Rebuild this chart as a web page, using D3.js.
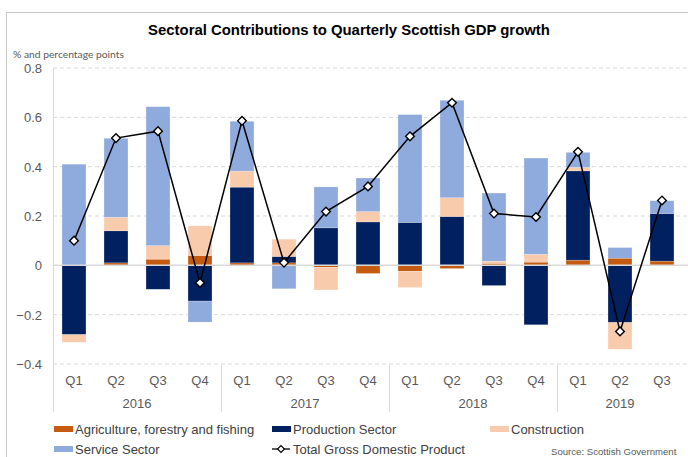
<!DOCTYPE html>
<html><head><meta charset="utf-8">
<script src="https://cdn.jsdelivr.net/npm/d3@7"></script>
<style>body{margin:0;background:#fff}svg{display:block}</style>
</head><body><svg id="c" width="688" height="457"></svg>
<script>
const quarters = ["Q1","Q2","Q3","Q4","Q1","Q2","Q3","Q4","Q1","Q2","Q3","Q4","Q1","Q2","Q3"];
const years = ["2016","2017","2018","2019"];
const agri = [0, 0.01, 0.025, 0.04, 0.01, 0.01, -0.008, -0.033, -0.024, -0.013, 0.008, 0.013, 0.021, 0.029, 0.017];
const prod = [-0.281, 0.13, -0.097, -0.145, 0.307, 0.026, 0.152, 0.176, 0.174, 0.198, -0.082, -0.241, 0.362, -0.232, 0.193];
const cons = [-0.031, 0.055, 0.055, 0.12, 0.065, 0.07, -0.092, 0.042, -0.066, 0.076, 0.009, 0.032, 0.014, -0.108, 0.0];
const serv = [0.41, 0.32, 0.563, -0.085, 0.202, -0.095, 0.166, 0.136, 0.437, 0.395, 0.276, 0.39, 0.061, 0.043, 0.052];
const total = [0.10, 0.516, 0.544, -0.071, 0.586, 0.011, 0.218, 0.32, 0.523, 0.659, 0.21, 0.196, 0.46, -0.268, 0.263];
const yTicks = [0.8, 0.6, 0.4, 0.2, 0, -0.2, -0.4];
const seriesNames = ["Agriculture, forestry and fishing","Production Sector","Construction","Service Sector"];
const colors = ["#C55A11","#002060","#F8CBAD","#8FAADC"];

const svg = d3.select("#c");
const font = "'Liberation Sans', Arial, sans-serif";
const pLeft = 53, pRight = 683, pTop = 68, pBottom = 364;

svg.append("rect").attr("x",6.5).attr("y",12.5).attr("width",700).attr("height",500)
  .attr("fill","none").attr("stroke","#c8c8c8");

svg.append("text").attr("x",349).attr("y",35).attr("text-anchor","middle")
  .attr("font-family",font).attr("font-weight","bold").attr("font-size",14.9).attr("fill","#000")
  .text("Sectoral Contributions to Quarterly Scottish GDP growth");
svg.append("text").attr("x",13).attr("y",58).attr("font-family","Lato, 'Open Sans', sans-serif")
  .attr("font-size",10.3).attr("fill","#595959").text("% and percentage points");

const idx = d3.range(quarters.length);
const x = d3.scaleBand().domain(idx).range([pLeft, pRight]).paddingInner(0.43).paddingOuter(0.215);
const y = d3.scaleLinear().domain([-0.4, 0.8]).range([pBottom, pTop]);

// gridlines
svg.append("g").selectAll("line").data(yTicks.filter(d => d !== 0)).join("line")
  .attr("x1",pLeft).attr("x2",688).attr("y1",d=>y(d)).attr("y2",d=>y(d))
  .attr("stroke","#d9d9d9").attr("stroke-dasharray","4,3").attr("stroke-width",1);

// y axis
const yAxis = d3.axisLeft(y).tickValues(yTicks).tickSize(0).tickPadding(0)
  .tickFormat(d => d === 0 ? "0" : d3.format(".1f")(d));
const ya = svg.append("g").attr("transform",`translate(${pLeft-11},0)`).call(yAxis);
ya.select(".domain").remove();
ya.selectAll("text").attr("font-family",font).attr("font-size",13).attr("fill","#595959").attr("dy","0.35em");

// stacked bars
const rows = idx.map(i => ({i, a: agri[i], p: prod[i], c: cons[i], s: serv[i]}));
const stack = d3.stack().keys(["a","p","c","s"]).offset(d3.stackOffsetDiverging);
const stacked = stack(rows);
svg.append("g").selectAll("g").data(stacked).join("g").attr("fill",(d,k)=>colors[k])
  .selectAll("rect").data(d=>d).join("rect")
  .attr("x",d=>x(d.data.i)).attr("width",x.bandwidth())
  .attr("y",d=>y(Math.max(d[0],d[1]))).attr("height",d=>Math.abs(y(d[0])-y(d[1])))
  .attr("stroke","#ffffff").attr("stroke-opacity",0.35).attr("stroke-width",0.6);

// zero line and left axis line
svg.append("line").attr("x1",pLeft).attr("x2",688).attr("y1",y(0)).attr("y2",y(0))
  .attr("stroke","#d9d9d9").attr("stroke-width",1.5);
svg.append("line").attr("x1",pLeft+0.5).attr("x2",pLeft+0.5).attr("y1",pTop).attr("y2",412)
  .attr("stroke","#d9d9d9").attr("stroke-width",1);

// x axis quarter labels via axis
const xAxis = d3.axisBottom(x).tickSize(0).tickPadding(0).tickFormat(i => quarters[i]);
const xa = svg.append("g").attr("transform",`translate(0,${pBottom})`).call(xAxis);
xa.select(".domain").remove();
xa.selectAll("text").attr("font-family",font).attr("font-size",13).attr("fill","#595959").attr("dy","21");

// year groups
const step = x.step();
years.forEach((yr, k) => {
  const i0 = k*4, i1 = Math.min(k*4+3, quarters.length-1);
  const cx = (x(i0) + x(i1) + x.bandwidth())/2;
  svg.append("text").attr("x",cx).attr("y",408).attr("text-anchor","middle")
    .attr("font-family",font).attr("font-size",13).attr("fill","#595959").text(yr);
  if (k > 0) {
    const sx = Math.round(x(i0) - (step - x.bandwidth())/2) + 0.5;
    svg.append("line").attr("x1",sx).attr("x2",sx).attr("y1",365).attr("y2",412)
      .attr("stroke","#d9d9d9").attr("stroke-width",1);
  }
});

// total line
const cxf = i => x(i) + x.bandwidth()/2;
svg.append("path").datum(idx).attr("fill","none").attr("stroke","#000").attr("stroke-width",1.5)
  .attr("d", d3.line().x(i=>cxf(i)).y(i=>y(total[i])));
const diamond = d3.symbol().type(d3.symbolDiamond2).size(48);
svg.append("g").selectAll("path").data(idx).join("path")
  .attr("transform", i=>`translate(${cxf(i)},${y(total[i])})`)
  .attr("d", diamond).attr("fill","#fff").attr("stroke","#000").attr("stroke-width",1.4);

// legend
const legItems = [
  {t: seriesNames[0], c: colors[0], x: 54, y: 429},
  {t: seriesNames[1], c: colors[1], x: 272, y: 429},
  {t: seriesNames[2], c: colors[2], x: 490, y: 429},
  {t: seriesNames[3], c: colors[3], x: 54, y: 449},
];
legItems.forEach(d => {
  svg.append("rect").attr("x",d.x).attr("y",d.y-3).attr("width",19).attr("height",6).attr("fill",d.c);
  svg.append("text").attr("x",d.x+21).attr("y",d.y).attr("dy","0.35em")
    .attr("font-family",font).attr("font-size",13).attr("fill","#404040").text(d.t);
});
svg.append("line").attr("x1",272).attr("x2",290).attr("y1",449).attr("y2",449).attr("stroke","#000").attr("stroke-width",1.3);
svg.append("path").attr("transform","translate(281,449)").attr("d",d3.symbol().type(d3.symbolDiamond2).size(30))
  .attr("fill","#fff").attr("stroke","#000").attr("stroke-width",1.2);
svg.append("text").attr("x",293).attr("y",449).attr("dy","0.35em")
  .attr("font-family",font).attr("font-size",13).attr("fill","#404040").text("Total Gross Domestic Product");
svg.append("text").attr("x",551).attr("y",455).attr("font-family",font).attr("font-size",9.6)
  .attr("fill","#595959").text("Source: Scottish Government");
</script></body></html>
